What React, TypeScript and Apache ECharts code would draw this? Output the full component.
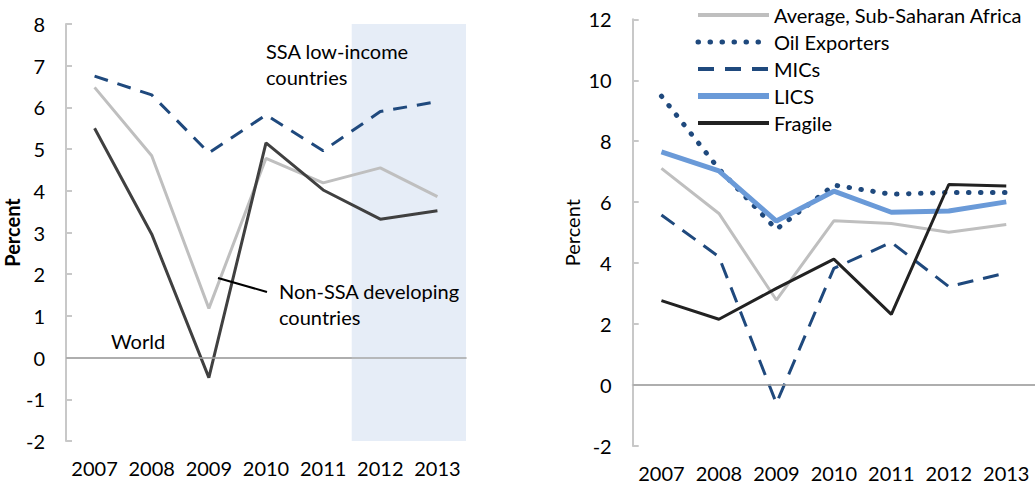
import React, { useEffect, useRef } from "react";
import * as echarts from "echarts";

const years = ["2007", "2008", "2009", "2010", "2011", "2012", "2013"];

// Left panel
const ssaLowIncome = [6.75, 6.3, 4.91, 5.82, 4.96, 5.9, 6.14];
const nonSsaDeveloping = [6.48, 4.84, 1.18, 4.78, 4.19, 4.55, 3.86];
const world = [5.5, 2.96, -0.48, 5.15, 4.02, 3.32, 3.52];

// Right panel
const avgSSA = [7.11, 5.63, 2.79, 5.39, 5.3, 5.01, 5.27];
const oilExporters = [9.48, 7.09, 5.11, 6.56, 6.26, 6.32, 6.32];
const mics = [5.58, 4.21, -0.6, 3.83, 4.68, 3.23, 3.68];
const lics = [7.65, 7.03, 5.38, 6.36, 5.67, 5.71, 6.01];
const fragile = [2.77, 2.16, 3.17, 4.13, 2.32, 6.58, 6.53];

const legendNames = ["Average, Sub-Saharan Africa", "Oil Exporters", "MICs", "LICS", "Fragile"];

const FONT = "Lato";
const FS = 20;
const AXIS_COLOR = "#c8c8c8";

const styles: Record<string, any> = {
  "Average, Sub-Saharan Africa": { color: "#bfbfbf", width: 3 },
  "Oil Exporters": { color: "#1f497d", width: 5, type: [0.5, 11.5], cap: "round" },
  MICs: { color: "#1f497d", width: 3, type: [16, 10] },
  LICS: { color: "#6a9ad8", width: 5 },
  Fragile: { color: "#222222", width: 3 },
};
const legendStyles: Record<string, any> = {
  "Average, Sub-Saharan Africa": { color: "#bfbfbf", width: 4, type: "solid" },
  "Oil Exporters": { color: "#1f497d", width: 5, type: [0.5, 11.5], cap: "round" },
  MICs: { color: "#1f497d", width: 4, type: [16, 11] },
  LICS: { color: "#6a9ad8", width: 6, type: "solid" },
  Fragile: { color: "#222222", width: 4, type: "solid" },
};

export default function App() {
  const ref = useRef<HTMLDivElement>(null);
  useEffect(() => {
    const chart = echarts.init(ref.current!, null, { renderer: "svg" });
    const catAxis = (gridIndex: number) => ({
      type: "category",
      gridIndex,
      data: years,
      boundaryGap: true,
      axisLine: { lineStyle: { color: AXIS_COLOR, width: 2 } },
      axisTick: { inside: true, length: 6, lineStyle: { color: AXIS_COLOR, width: 2 } },
      axisLabel: { color: "#000", fontSize: FS, fontFamily: FONT, margin: 17, interval: 0 },
      splitLine: { show: false },
    });
    const valAxis = (gridIndex: number, min: number, max: number, interval: number, bold: boolean, nameGap: number) => ({
      type: "value",
      gridIndex,
      min,
      max,
      interval,
      name: "Percent",
      nameLocation: "middle",
      nameGap,
      nameTextStyle: { color: "#000", fontSize: FS, fontFamily: FONT, fontWeight: bold ? "bold" : "normal" },
      axisLine: { show: true, lineStyle: { color: AXIS_COLOR, width: 2 } },
      axisTick: { show: true, inside: true, length: 6, lineStyle: { color: AXIS_COLOR, width: 2 } },
      axisLabel: { color: "#000", fontSize: FS, fontFamily: FONT, margin: 21 },
      splitLine: { show: false },
    });
    const zeroLine = {
      silent: true,
      symbol: "none",
      label: { show: false },
      lineStyle: { color: "#a6a6a6", width: 1.5, type: "solid" },
      data: [{ yAxis: 0 }],
    };
    const lineSeries = (name: string, data: number[], xi: number, yi: number, lineStyle: any, extra: any = {}) => ({
      name,
      type: "line",
      xAxisIndex: xi,
      yAxisIndex: yi,
      data,
      symbol: "none",
      lineStyle,
      itemStyle: { color: lineStyle.color },
      z: 3,
      ...extra,
    });
    const txt = { fontSize: FS, fontFamily: FONT, fill: "#000", lineHeight: 26 };
    chart.setOption({
      animation: false,
      textStyle: { fontFamily: FONT },
      grid: [
        { left: 66, top: 24, width: 400, height: 417 },
        { left: 632.7, top: 19.3, width: 408, height: 426.7 },
      ],
      xAxis: [
        catAxis(0),
        catAxis(1),
        { type: "value", gridIndex: 0, min: 0, max: 7, show: false },
      ],
      yAxis: [valAxis(0, -2, 8, 1, true, 36), valAxis(1, -2, 12, 2, false, 51)],
      legend: {
        orient: "vertical",
        left: 695,
        top: 5,
        padding: 0,
        itemWidth: 71,
        itemHeight: 14,
        itemGap: 7,
        itemStyle: { opacity: 0 },
        textStyle: { color: "#000", fontSize: FS, fontFamily: FONT, lineHeight: 20 },
        data: legendNames.map((n) => ({ name: n, lineStyle: legendStyles[n] })),
      },
      series: [
        {
          name: "shade",
          type: "line",
          xAxisIndex: 2,
          yAxisIndex: 0,
          data: [],
          silent: true,
          markArea: {
            silent: true,
            itemStyle: { color: "#e6edf7" },
            data: [[{ xAxis: 5 }, { xAxis: 7 }]],
          },
          z: 1,
        },
        lineSeries("Non-SSA developing countries", nonSsaDeveloping, 0, 0, { color: "#bfbfbf", width: 3 }, { markLine: zeroLine }),
        lineSeries("World", world, 0, 0, { color: "#404040", width: 3 }),
        lineSeries("SSA low-income countries", ssaLowIncome, 0, 0, { color: "#1f497d", width: 3, type: [14, 10] }),
        lineSeries("Average, Sub-Saharan Africa", avgSSA, 1, 1, styles["Average, Sub-Saharan Africa"], { markLine: zeroLine }),
        lineSeries("Oil Exporters", oilExporters, 1, 1, styles["Oil Exporters"]),
        lineSeries("MICs", mics, 1, 1, styles["MICs"]),
        lineSeries("LICS", lics, 1, 1, styles["LICS"]),
        lineSeries("Fragile", fragile, 1, 1, styles["Fragile"]),
      ],
      graphic: [
        { type: "text", z: 100, left: 266, top: 38, style: { text: "SSA low-income\ncountries", ...txt } },
        { type: "text", z: 100, left: 279, top: 278, style: { text: "Non-SSA developing\ncountries", ...txt } },
        { type: "text", z: 100, left: 111, top: 328, style: { text: "World", ...txt } },
        { type: "line", z: 100, shape: { x1: 218, y1: 278, x2: 267, y2: 292 }, style: { stroke: "#000", lineWidth: 2 } },
      ],
    });
    return () => chart.dispose();
  }, []);
  return <div ref={ref} style={{ position: "fixed", left: 0, top: 0, width: 1035, height: 486, background: "#fff" }} />;
}
